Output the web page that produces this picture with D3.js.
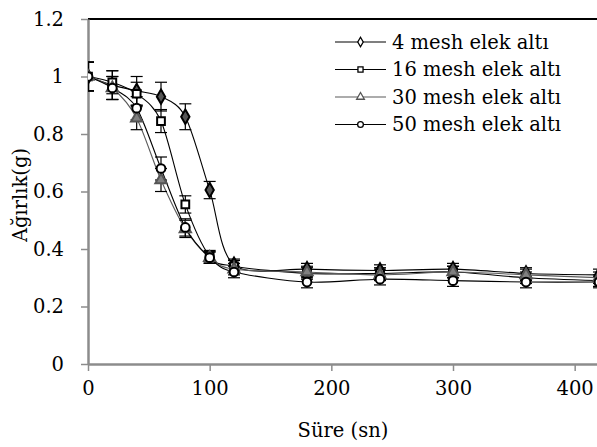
<!DOCTYPE html>
<html>
<head>
<meta charset="utf-8">
<script src="https://d3js.org/d3.v7.min.js"></script>
<style>
  body { margin: 0; background: #fff; }
  text { font-family: "DejaVu Serif", serif; fill: #000; }
</style>
</head>
<body>
<svg width="597" height="447"></svg>
<script>
var times = [0, 20, 40, 60, 80, 100, 120, 180, 240, 300, 360, 420];
var names = ["4 mesh elek altı", "16 mesh elek altı", "30 mesh elek altı", "50 mesh elek altı"];
var mesh4  = [1.0, 0.97, 0.95, 0.93, 0.86, 0.605, 0.345, 0.33, 0.325, 0.33, 0.315, 0.31];
var mesh16 = [1.0, 0.98, 0.94, 0.845, 0.555, 0.375, 0.34, 0.315, 0.315, 0.32, 0.30, 0.29];
var mesh30 = [1.0, 0.96, 0.855, 0.64, 0.47, 0.37, 0.33, 0.32, 0.31, 0.32, 0.31, 0.30];
var mesh50 = [1.0, 0.96, 0.89, 0.68, 0.475, 0.37, 0.32, 0.285, 0.295, 0.29, 0.285, 0.285];
var err4  = [0.05, 0.05, 0.05, 0.05, 0.045, 0.03, 0.02, 0.02, 0.02, 0.02, 0.02, 0.02];
var err16 = [0.05, 0.04, 0.04, 0.04, 0.03, 0.02, 0.02, 0.02, 0.02, 0.02, 0.02, 0.02];
var err30 = [0.05, 0.04, 0.04, 0.04, 0.03, 0.02, 0.02, 0.02, 0.02, 0.02, 0.02, 0.02];
var err50 = [0.05, 0.04, 0.04, 0.04, 0.03, 0.02, 0.02, 0.02, 0.02, 0.02, 0.02, 0.02];
var xTicks = [0, 100, 200, 300, 400];
var yTicks = [0, 0.2, 0.4, 0.6, 0.8, 1, 1.2];

var series = [
  {name: names[0], values: mesh4,  err: err4,  color: "#000", sym: d3.symbolDiamond,  fill: "#555", stroke: "#000"},
  {name: names[1], values: mesh16, err: err16, color: "#000", sym: d3.symbolSquare,   fill: "#fff", stroke: "#000"},
  {name: names[2], values: mesh30, err: err30, color: "#5a5a5a", sym: d3.symbolTriangle, fill: "#808080", stroke: "#555"},
  {name: names[3], values: mesh50, err: err50, color: "#000", sym: d3.symbolCircle,   fill: "#fff", stroke: "#000"}
];

var svg = d3.select("svg");
var mLeft = 88, mTop = 19, mRight = 599, mBottom = 364;
var fs = "19.5px";

var x = d3.scaleLinear().domain([0, 420]).range([mLeft, mRight]);
var y = d3.scaleLinear().domain([0, 1.2]).range([mBottom, mTop]);

svg.append("clipPath").attr("id", "plot")
  .append("rect").attr("x", mLeft).attr("y", 0).attr("width", mRight - mLeft).attr("height", mBottom);

// top border
svg.append("line").attr("x1", mLeft).attr("x2", 597).attr("y1", y(1.2)).attr("y2", y(1.2))
  .attr("stroke", "#000").attr("stroke-width", 2);

var xAxis = svg.append("g").attr("transform", "translate(0," + mBottom + ")")
  .call(d3.axisBottom(x).tickValues(xTicks).tickSize(7).tickPadding(10).tickSizeOuter(0));
var yAxis = svg.append("g").attr("transform", "translate(" + mLeft + ",0)")
  .call(d3.axisLeft(y).tickValues(yTicks).tickSize(7).tickPadding(17).tickSizeOuter(0)
    .tickFormat(function(d) { return d3.format("")(d); }));

[xAxis, yAxis].forEach(function(a) {
  a.select(".domain").attr("stroke", "#8c8c8c").attr("stroke-width", 2.5);
  a.selectAll(".tick line").attr("stroke", "#8c8c8c").attr("stroke-width", 1.5);
  a.selectAll(".tick text").style("font-size", fs).style("font-family", "DejaVu Serif");
});

var g = svg.append("g").attr("clip-path", "url(#plot)");

var line = d3.line().curve(d3.curveCardinal.tension(0.1))
  .x(function(d, i) { return x(times[i]); })
  .y(function(d) { return y(d); });

series.forEach(function(s) {
  g.append("path").datum(s.values).attr("d", line)
    .attr("fill", "none").attr("stroke", s.color).attr("stroke-width", 1.1);
});

series.forEach(function(s) {
  var eb = g.append("g").attr("stroke", "#000").attr("stroke-width", 1.2);
  s.values.forEach(function(v, i) {
    var cx = x(times[i]);
    eb.append("line").attr("x1", cx).attr("x2", cx).attr("y1", y(v - s.err[i])).attr("y2", y(v + s.err[i]));
    [v - s.err[i], v + s.err[i]].forEach(function(e) {
      eb.append("line").attr("x1", cx - 6).attr("x2", cx + 6).attr("y1", y(e)).attr("y2", y(e));
    });
  });
});

series.forEach(function(s) {
  var sym = d3.symbol().type(s.sym).size(s.sym === d3.symbolTriangle ? 55 : 60);
  g.selectAll(null).data(s.values).enter().append("path")
    .attr("d", sym)
    .attr("transform", function(d, i) { return "translate(" + x(times[i]) + "," + y(d) + ")"; })
    .attr("fill", s.fill).attr("stroke", s.stroke)
    .attr("stroke-width", 2);
});

// legend
var leg = svg.append("g");
series.forEach(function(s, i) {
  var ly = 42 + i * 27.5;
  leg.append("line").attr("x1", 335).attr("x2", 386).attr("y1", ly).attr("y2", ly)
    .attr("stroke", s.color).attr("stroke-width", 1.1);
  leg.append("path").attr("d", d3.symbol().type(s.sym).size(26))
    .attr("transform", "translate(360.5," + ly + ")")
    .attr("fill", "#fff").attr("stroke", s.stroke).attr("stroke-width", 1.3);
  leg.append("text").attr("x", 392).attr("y", ly).attr("dy", "0.35em")
    .style("font-size", fs).text(s.name);
});

svg.append("text").attr("x", 343).attr("y", 437).attr("text-anchor", "middle")
  .style("font-size", fs).text("Süre (sn)");
svg.append("text").attr("transform", "translate(27,195) rotate(-90)").attr("text-anchor", "middle")
  .style("font-size", fs).text("Ağırlık(g)");
</script>
</body>
</html>
